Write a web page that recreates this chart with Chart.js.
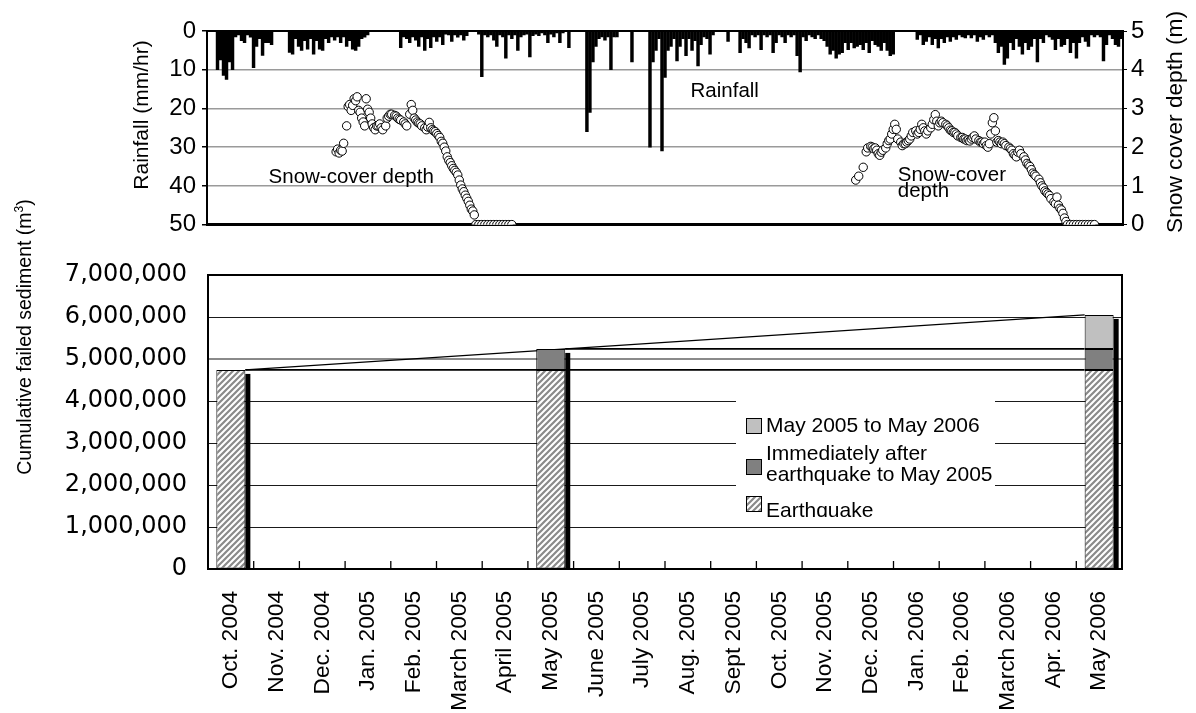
<!DOCTYPE html>
<html><head><meta charset="utf-8">
<script src="https://cdn.jsdelivr.net/npm/chart.js"></script>
<style>
html,body{margin:0;padding:0;background:#fff;}
#wrap{position:relative;width:1196px;height:713px;overflow:hidden;background:#fff;}
#topc{position:absolute;left:0;top:0;}
#botc{position:absolute;left:0;top:190px;}
</style></head><body>
<div id="wrap">
<canvas id="topc" width="1196" height="245" style="width:1196px;height:245px"></canvas>
<canvas id="botc" width="1196" height="523" style="width:1196px;height:523px"></canvas>
</div>
<script>
// ---------------- DATA ----------------
// Max hourly rainfall (mm/hr) per 2-day interval, starting 1 Oct 2004
const rainfall = [
0,0,0,10,7.5,11.5,12.5,8,10,1.5,
1,2.5,3,1,1.6,9.5,4,2,6.3,3,
3,3.5,0,0,0,0,0,5.5,6,2,
4,5,2.5,4.7,2,6,2.5,4.7,5,2,
3,1.5,2.4,1.5,3,1.5,4,2.5,4.7,5,
4,2,1.6,1,0,0,0,0,0,0,
0,0,0,0,4.3,1.5,2,3,1.5,2.4,
4,1.5,5,2,4.3,1.5,2.7,1.5,3.5,0.8,
1,2.7,1,1.6,1,2.4,1.2,0,0,0,
0.8,11.8,1,1.5,1,2.4,4,1,1.5,7,
1,2,1,5,1.5,1,0.8,6.7,1.2,0.8,
1.2,0.5,1,3,0.8,1.5,0.5,3,0.5,0,
4.3,0,0,0,0,0,26,21,8,4,
2,1.5,2.4,1.5,10,1.5,1.5,0,0,0,
0,8,0,0,0,0,0,30,8,5,
2,31,12,5,4,2,7.7,4,2,6.4,
2,5,2.5,9,3.5,1.5,2,6,1,0,
0,0,0,2.7,0,0,0,5.6,2,3,
4.4,1,1.5,1,4.8,1,1.5,1,5.6,3,
1,1.5,3,1,1.5,1,6.4,10.6,1.5,2.5,
1,1.5,2,1,2,2.5,4,6,5,7,
6,5.6,3,4.8,3,4.4,4,3.5,4.8,3,
5.6,2.5,3.5,4,5,3,5,6.4,6,0,
0,0,0,0,0,0,2.2,1,3.5,2.7,
1.5,3.5,2,4.4,2,3,1.5,2.7,1.5,2.2,
1,1.5,1.8,1,1.8,1,2.7,1.5,2.2,1,
1.5,1,3,5.6,4,8.6,7,3,4.8,2,
4,6,3,4.8,4,2,8,2,3,1,
1.5,2.2,4.8,2,4,3.5,2,5.6,3,7,
3,1.5,2.7,4,1,1.5,1,1.5,7.7,3.5,
1,2,3.5,4,2
];
const rainfallStepDays = 2;
const topAxisDays = 610;

// Snow-cover depth (m): [day since 1 Oct 2004, depth]
const snowSeason1 = [[86,1.88],[87,1.95],[88,1.85],[89,1.92],[90,1.9],[91,2.1],[93,2.55],[94,3.05],[95,3.1],[96,2.95],[97,3.08],[98,3.25],[99,3.2],[100,3.3],[101,2.95],[102,2.9],[103,2.75],[104,2.65],[105,2.55],[106,3.25],[107,2.98],[108,2.9],[109,2.75],[110,2.6],[111,2.5],[112,2.45],[113,2.55],[114,2.55],[115,2.6],[116,2.5],[117,2.45],[119,2.55],[120,2.75],[121,2.8],[122,2.85],[123,2.85],[125,2.82],[126,2.8],[127,2.75],[128,2.72],[129,2.7],[131,2.65],[132,2.6],[133,2.55],[135,2.85],[136,3.1],[137,2.95],[138,2.75],[139,2.7],[140,2.65],[141,2.62],[142,2.6],[143,2.55],[145,2.5],[146,2.45],[147,2.52],[148,2.64],[149,2.5],[150,2.45],[151,2.42],[152,2.4],[153,2.35],[154,2.3],[155,2.25],[156,2.15],[157,2.1],[158,2.0],[159,1.9],[160,1.75],[161,1.66],[162,1.6],[163,1.52],[164,1.45],[165,1.4],[166,1.35],[167,1.28],[168,1.15],[169,1.02],[170,0.92],[171,0.85],[172,0.76],[173,0.68],[174,0.6],[175,0.5],[176,0.4],[177,0.35],[178,0.25],[179,0],[181,0],[183,0],[185,0],[187,0],[189,0],[191,0],[193,0],[195,0],[197,0],[199,0],[201,0],[203,0]];
const snowSeason2 = [[432,1.15],[434,1.25],[437,1.48],[439,1.88],[440,1.98],[442,2.02],[443,2.0],[444,1.96],[445,1.98],[446,1.92],[447,1.83],[448,1.79],[449,1.87],[450,1.92],[452,1.98],[453,2.09],[454,2.17],[455,2.21],[456,2.34],[457,2.46],[458,2.59],[459,2.46],[460,2.21],[462,2.13],[463,2.04],[464,2.09],[465,2.09],[466,2.13],[467,2.17],[468,2.21],[469,2.29],[470,2.38],[472,2.42],[473,2.34],[474,2.38],[475,2.46],[476,2.59],[477,2.5],[478,2.42],[479,2.34],[480,2.42],[482,2.5],[483,2.59],[484,2.71],[485,2.84],[486,2.67],[487,2.55],[488,2.63],[489,2.67],[490,2.63],[492,2.59],[493,2.55],[494,2.5],[495,2.44],[496,2.42],[497,2.38],[498,2.38],[499,2.34],[500,2.29],[502,2.25],[503,2.25],[504,2.21],[505,2.21],[506,2.17],[507,2.19],[508,2.16],[509,2.21],[510,2.25],[511,2.29],[512,2.21],[514,2.17],[515,2.13],[516,2.13],[517,2.09],[518,2.13],[519,2.04],[520,2.0],[521,2.09],[522,2.34],[523,2.63],[524,2.76],[525,2.42],[526,2.13],[527,2.17],[528,2.13],[529,2.09],[530,2.13],[531,2.09],[532,2.04],[534,2.0],[535,1.96],[536,1.92],[537,1.83],[538,1.79],[539,1.75],[540,1.87],[541,1.92],[542,1.83],[544,1.75],[545,1.67],[546,1.58],[547,1.54],[548,1.5],[549,1.42],[550,1.33],[551,1.29],[552,1.25],[554,1.17],[555,1.08],[556,1.0],[557,0.95],[558,0.87],[559,0.83],[560,0.79],[561,0.75],[562,0.67],[564,0.58],[565,0.54],[566,0.71],[567,0.5],[568,0.42],[569,0.38],[570,0.29],[571,0.17],[572,0.08],[573,0],[575,0],[577,0],[579,0],[581,0],[583,0],[585,0],[587,0],[589,0],[591,0]];

// Bottom chart
const months = ['Oct. 2004','Nov. 2004','Dec. 2004','Jan. 2005','Feb. 2005','March 2005','April 2005','May 2005','June 2005','July 2005','Aug. 2005','Sept 2005','Oct. 2005','Nov. 2005','Dec. 2005','Jan. 2006','Feb. 2006','March 2006','Apr. 2006','May 2006'];
const earthquakeVol = [4740000,null,null,null,null,null,null,4740000,null,null,null,null,null,null,null,null,null,null,null,4740000];
const afterQuakeVol = [null,null,null,null,null,null,null,500000,null,null,null,null,null,null,null,null,null,null,null,500000];
const lateVol       = [null,null,null,null,null,null,null,null,null,null,null,null,null,null,null,null,null,null,null,810000];
const sedimentTicks = [0,1000000,2000000,3000000,4000000,5000000,6000000,7000000];

// ---------------- STYLE ----------------
Chart.defaults.font.family = '"Liberation Sans", Arial, sans-serif';
Chart.defaults.color = '#000';
const FONT = '"Liberation Sans", Arial, sans-serif';

function hatch(){
  const c = document.createElement('canvas'); c.width = 6; c.height = 6;
  const g = c.getContext('2d');
  g.fillStyle = '#fff'; g.fillRect(0,0,6,6);
  g.strokeStyle = '#8a8a8a'; g.lineWidth = 2.2;
  g.beginPath();
  g.moveTo(-1,7); g.lineTo(7,-1);
  g.moveTo(-1,1); g.lineTo(1,-1);
  g.moveTo(5,7); g.lineTo(7,5);
  g.stroke();
  return g.createPattern(c,'repeat');
}
const hatchFill = hatch();

// ---------------- TOP CHART ----------------
const topNotes = [
  {text:'Rainfall', day:322, axis:'yR', value:17},
  {text:'Snow-cover depth', day:41, axis:'yS', value:1.075},
  {text:'Snow-cover', day:460, axis:'yS', value:1.125},
  {text:'depth', day:460, axis:'yS', value:0.725}
];

const topPlugin = {
  id:'topDecor',
  beforeDatasetsDraw(chart){
    const {ctx, chartArea:a} = chart;
    ctx.save();
    ctx.strokeStyle = '#000'; ctx.lineWidth = 2;
    ctx.strokeRect(a.left, a.top, a.right-a.left, a.bottom-a.top);
    ctx.lineWidth = 3;
    ctx.beginPath(); ctx.moveTo(a.left-1, a.bottom); ctx.lineTo(a.right+1, a.bottom); ctx.stroke();
    ctx.restore();
  },
  afterDraw(chart){
    const {ctx, scales} = chart;
    ctx.save();
    ctx.fillStyle = '#000';
    ctx.font = '20.5px ' + FONT;
    ctx.textAlign = 'left'; ctx.textBaseline = 'alphabetic';
    topNotes.forEach(n => {
      ctx.fillText(n.text, scales.x.getPixelForValue(n.day), scales[n.axis].getPixelForValue(n.value));
    });
    const a = chart.chartArea;
    ctx.textAlign = 'center'; ctx.textBaseline = 'middle';
    ctx.save(); ctx.translate(a.left-65, a.top+84); ctx.rotate(-Math.PI/2);
    ctx.font = '21px ' + FONT; ctx.fillText('Rainfall (mm/hr)', 0, 0); ctx.restore();
    ctx.save(); ctx.translate(a.right+53, a.top+91); ctx.rotate(-Math.PI/2);
    ctx.font = '22.7px ' + FONT; ctx.fillText('Snow cover depth (m)', 0, 0); ctx.restore();
    ctx.restore();
  }
};

new Chart(document.getElementById('topc'), {
  type:'bar',
  data:{
    datasets:[
      {label:'Rainfall', data: rainfall.map((v,i)=>({x:i*rainfallStepDays+rainfallStepDays/2, y:v})),
       backgroundColor:'#000', borderWidth:0, barThickness:2.8, xAxisID:'x', yAxisID:'yR', order:2},
      {type:'line', label:'Snow-cover depth', data: snowSeason1.concat(snowSeason2).map(p=>({x:p[0], y:p[1]})),
       showLine:false, pointRadius:4.2, pointBorderWidth:1, pointBackgroundColor:'#fff', pointBorderColor:'#000',
       xAxisID:'x', yAxisID:'yS', order:1}
    ]
  },
  options:{
    responsive:false, animation:false, events:[],
    layout:{padding:{top:31, bottom:14, left:0, right:0}},
    plugins:{legend:{display:false}, tooltip:{enabled:false}},
    scales:{
      x:{type:'linear', min:0, max:topAxisDays, offset:false, display:false, grid:{offset:false}},
      yR:{position:'left', reverse:true, min:0, max:50,
          ticks:{stepSize:10, font:{size:24}, color:'#000', padding:6},
          grid:{color:c=>(c.tick.value===0||c.tick.value===50)?'rgba(0,0,0,0)':'#9a9a9a', lineWidth:1.5, tickLength:5, tickColor:'#000'},
          border:{display:false},
          afterFit:s=>{s.width=207;}},
      yS:{position:'right', min:0, max:5,
          ticks:{stepSize:1, font:{size:24}, color:'#000', padding:4},
          grid:{drawOnChartArea:false, tickLength:4, color:'#000'},
          border:{display:false},
          afterFit:s=>{s.width=73;}}
    }
  },
  plugins:[topPlugin]
});

// ---------------- BOTTOM CHART ----------------
const legendItems = [
  {label:'May 2005 to May 2006', ds:2},
  {label:'Immediately after|earthquake to May 2005', ds:1},
  {label:'Earthquake', ds:0}
];

function stackBoxes(chart){
  const boxes = {};
  chart.data.datasets.forEach((ds,di)=>{
    const meta = chart.getDatasetMeta(di);
    meta.data.forEach((el,i)=>{
      if(ds.data[i]==null) return;
      const top = Math.min(el.y, el.base), bot = Math.max(el.y, el.base);
      const l = el.x - el.width/2, r = el.x + el.width/2;
      if(!boxes[i]) boxes[i] = {i, left:l, right:r, top, base:bot, eqTop: di===0?top:null};
      else { boxes[i].top = Math.min(boxes[i].top, top); boxes[i].base = Math.max(boxes[i].base, bot); if(di===0) boxes[i].eqTop = top; }
    });
  });
  return Object.values(boxes).sort((a,b)=>a.i-b.i);
}

const botPlugin = {
  id:'botDecor',
  beforeDatasetsDraw(chart){
    const {ctx} = chart;
    const b = stackBoxes(chart);
    ctx.save();
    ctx.fillStyle = '#000';
    b.forEach(s=>{ ctx.fillRect(s.right, s.top+4, 5, s.base-s.top-4); });
    const first = b[0], mid = b[1], last = b[b.length-1];
    ctx.strokeStyle = '#000'; ctx.lineWidth = 1.6;
    ctx.beginPath();
    ctx.moveTo(first.right, first.eqTop); ctx.lineTo(last.left, first.eqTop);
    ctx.moveTo(mid.right, mid.top); ctx.lineTo(last.left, mid.top);
    ctx.stroke();
    ctx.lineWidth = 1.3;
    ctx.beginPath(); ctx.moveTo(first.right, first.eqTop); ctx.lineTo(last.left, last.top); ctx.stroke();
    ctx.restore();
  },
  afterDatasetsDraw(chart){
    const {ctx, chartArea:a, scales} = chart;
    ctx.save();
    const bx = a.left+528, by = a.top+117, bw = 259, bh = 125;
    ctx.fillStyle = '#fff'; ctx.fillRect(bx, by, bw, bh);
    ctx.beginPath(); ctx.rect(bx, by, bw, bh); ctx.clip();
    const sw = [{y:26},{y:67},{y:104}];
    const baselines = [[40],[68,89],[124.5]];
    ctx.font = '21px ' + FONT; ctx.textAlign='left'; ctx.textBaseline='alphabetic';
    legendItems.forEach((it,k)=>{
      const ds = chart.data.datasets[it.ds];
      ctx.fillStyle = ds.backgroundColor; ctx.fillRect(bx+10, by+sw[k].y, 15, 15);
      ctx.strokeStyle = '#000'; ctx.lineWidth = 1; ctx.strokeRect(bx+10.5, by+sw[k].y+0.5, 15, 15);
      ctx.fillStyle = '#000';
      it.label.split('|').forEach((ln,j)=> ctx.fillText(ln, bx+30, by+baselines[k][j]));
    });
    ctx.restore();
    ctx.save();
    ctx.strokeStyle = '#000'; ctx.lineWidth = 2;
    ctx.strokeRect(a.left, a.top, a.right-a.left, a.bottom-a.top);
    ctx.lineWidth = 1.3;
    const xs = scales.x;
    ctx.beginPath();
    for(let i=1;i<months.length;i++){
      const px = (xs.getPixelForTick(i-1)+xs.getPixelForTick(i))/2;
      ctx.moveTo(px, a.bottom); ctx.lineTo(px, a.bottom-8);
    }
    ctx.stroke();
    ctx.restore();
  },
  afterDraw(chart){
    const {ctx, chartArea:a} = chart;
    ctx.save();
    ctx.fillStyle = '#000';
    ctx.translate(a.left-184, a.top+62); ctx.rotate(-Math.PI/2);
    const main = 'Cumulative failed sediment (m', sup = '3', close = ')';
    ctx.font = '19.5px ' + FONT; const w1 = ctx.measureText(main).width, w3 = ctx.measureText(close).width;
    ctx.font = '12px ' + FONT; const w2 = ctx.measureText(sup).width;
    const x0 = -(w1+w2+w3)/2;
    ctx.textAlign='left'; ctx.textBaseline='alphabetic';
    ctx.font = '19.5px ' + FONT; ctx.fillText(main, x0, 7);
    ctx.font = '12px ' + FONT; ctx.fillText(sup, x0+w1, -1);
    ctx.font = '19.5px ' + FONT; ctx.fillText(close, x0+w1+w2, 7);
    ctx.restore();
  }
};

new Chart(document.getElementById('botc'), {
  type:'bar',
  data:{
    labels: months,
    datasets:[
      {label:'Earthquake', data:earthquakeVol, backgroundColor:hatchFill, borderColor:'#000', borderWidth:1, borderSkipped:false},
      {label:'Immediately after earthquake to May 2005', data:afterQuakeVol, backgroundColor:'#808080', borderColor:'#000', borderWidth:1, borderSkipped:false},
      {label:'May 2005 to May 2006', data:lateVol, backgroundColor:'#c0c0c0', borderColor:'#000', borderWidth:1, borderSkipped:false}
    ]
  },
  options:{
    responsive:false, animation:false, events:[],
    categoryPercentage:1, barPercentage:0.635,
    layout:{padding:{top:85, right:74, left:0, bottom:0}},
    plugins:{legend:{display:false}, tooltip:{enabled:false}},
    scales:{
      x:{stacked:true, offset:true,
         grid:{display:false, drawTicks:false},
         border:{display:false},
         ticks:{autoSkip:false, maxRotation:90, minRotation:90, font:{size:22.7}, color:'#000', padding:22},
         afterFit:s=>{s.height=144;}},
      y:{stacked:true, min:0, max:7000000,
         afterBuildTicks:s=>{s.ticks = sedimentTicks.map(v=>({value:v}));},
         ticks:{font:{size:24, family:'"DejaVu Sans", sans-serif'}, color:'#000', padding:21,
                callback:v=>Number(v).toLocaleString('en-US')},
         grid:{color:c=>c.tick.value===5000000?'#8a8a8a':'#1a1a1a', lineWidth:c=>c.tick.value===5000000?2:1, drawTicks:false},
         border:{display:false},
         afterFit:s=>{s.width=208;}}
    }
  },
  plugins:[botPlugin]
});
</script>
</body></html>
